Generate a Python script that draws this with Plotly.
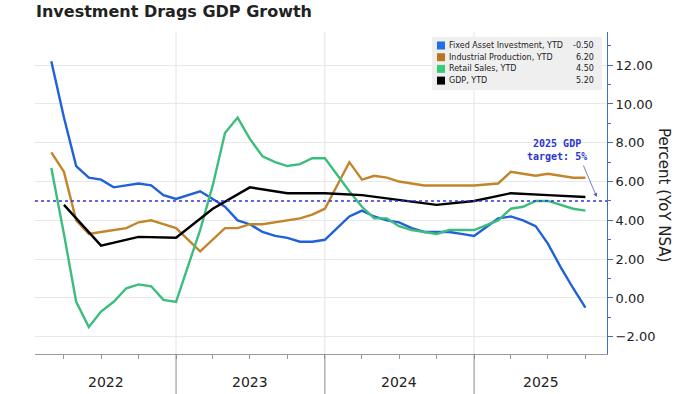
import plotly.graph_objects as go

# ---------------- data ----------------
months = [
    "2022-02-28", "2022-03-31", "2022-04-30", "2022-05-31", "2022-06-30", "2022-07-31",
    "2022-08-31", "2022-09-30", "2022-10-31", "2022-11-30", "2022-12-31",
    "2023-02-28", "2023-03-31", "2023-04-30", "2023-05-31", "2023-06-30", "2023-07-31",
    "2023-08-31", "2023-09-30", "2023-10-31", "2023-11-30", "2023-12-31",
    "2024-02-29", "2024-03-31", "2024-04-30", "2024-05-31", "2024-06-30", "2024-07-31",
    "2024-08-31", "2024-09-30", "2024-10-31", "2024-11-30", "2024-12-31",
    "2025-02-28", "2025-03-31", "2025-04-30", "2025-05-31", "2025-06-30", "2025-07-31",
    "2025-08-31", "2025-09-30",
]
fixed_asset_inv = [12.2, 9.3, 6.8, 6.2, 6.1, 5.7, 5.8, 5.9, 5.8, 5.3, 5.1,
                   5.5, 5.1, 4.7, 4.0, 3.8, 3.4, 3.2, 3.1, 2.9, 2.9, 3.0,
                   4.2, 4.5, 4.2, 4.0, 3.9, 3.6, 3.4, 3.4, 3.4, 3.3, 3.2,
                   4.1, 4.2, 4.0, 3.7, 2.8, 1.6, 0.5, -0.5]
industrial_prod = [7.5, 6.5, 4.0, 3.3, 3.4, 3.5, 3.6, 3.9, 4.0, 3.8, 3.6,
                   2.4, 3.0, 3.6, 3.6, 3.8, 3.8, 3.9, 4.0, 4.1, 4.3, 4.6,
                   7.0, 6.1, 6.3, 6.2, 6.0, 5.9, 5.8, 5.8, 5.8, 5.8, 5.8,
                   5.9, 6.5, 6.4, 6.3, 6.4, 6.3, 6.2, 6.2]
retail_sales = [6.7, 3.3, -0.2, -1.5, -0.7, -0.2, 0.5, 0.7, 0.6, -0.1, -0.2,
                3.5, 5.8, 8.5, 9.3, 8.2, 7.3, 7.0, 6.8, 6.9, 7.2, 7.2,
                5.5, 4.7, 4.1, 4.1, 3.7, 3.5, 3.4, 3.3, 3.5, 3.5, 3.5,
                4.0, 4.6, 4.7, 5.0, 5.0, 4.8, 4.6, 4.5]
quarters = ["2022-03-31", "2022-06-30", "2022-09-30", "2022-12-31",
            "2023-03-31", "2023-06-30", "2023-09-30", "2023-12-31",
            "2024-03-31", "2024-06-30", "2024-09-30", "2024-12-31",
            "2025-03-31", "2025-06-30", "2025-09-30"]
gdp = [4.8, 2.7, 3.15, 3.1, 4.6, 5.7, 5.4, 5.4, 5.3, 5.05, 4.8, 5.0, 5.4, 5.3, 5.2]
gdp_target = 5.0

series_names = ["Fixed Asset Investment, YTD", "Industrial Production, YTD",
                "Retail Sales, YTD", "GDP, YTD"]
year_labels = ["2022", "2023", "2024", "2025"]
year_bounds = ["2022-12-31", "2023-12-31", "2024-12-31"]
label_dates = ["2022-07-12", "2023-07-01", "2024-07-01", "2025-06-12"]
y_ticks = [-2, 0, 2, 4, 6, 8, 10, 12]
y_minor = [-1, 1, 3, 5, 7, 9, 11, 13]

# ---------------- styles ----------------
line_colors = ["#2061d9", "#c3852b", "#3dbd7d", "#000000"]
legend_colors = ["#1f6fe8", "#b8771f", "#38cc78", "#000000"]
FONT = "DejaVu Sans"

W, H = 700, 394
L, R, T, B = 35, 93, 32, 40
PW, PH = W - L - R, H - T - B


def px(x):
    return (x - L) / PW


def py(y):
    return (H - B - y) / PH


fig = go.Figure()
xs_list = [months, months, months, quarters]
ys_list = [fixed_asset_inv, industrial_prod, retail_sales, gdp]
for name, xs, ys, c in zip(series_names, xs_list, ys_list, line_colors):
    fig.add_trace(go.Scatter(x=xs, y=ys, mode="lines", name=name,
                             line=dict(color=c, width=2.4), showlegend=False))

shapes = []
# vertical gridlines / year separators
for d in year_bounds:
    shapes.append(dict(type="line", xref="x", yref="paper", x0=d, x1=d, y0=0, y1=1,
                       line=dict(color="#e3e3e3", width=1), layer="below"))
    shapes.append(dict(type="line", xref="x", yref="paper", x0=d, x1=d, y0=0, y1=py(H),
                       line=dict(color="#8a8a8a", width=1)))
# target line
shapes.append(dict(type="line", xref="paper", yref="y", x0=0, x1=1, y0=gdp_target, y1=gdp_target,
                   line=dict(color="#3333d6", width=1.6, dash="dot")))
# legend box
shapes.append(dict(type="rect", xref="paper", yref="paper", x0=px(432), x1=px(602),
                   y0=py(90), y1=py(37), fillcolor="#efefef", line=dict(width=0)))
row_y = [45.5, 57.2, 68.9, 80.6]
annotations = []
last_vals = [fixed_asset_inv[-1], industrial_prod[-1], retail_sales[-1], gdp[-1]]
for name, c, ry, v in zip(series_names, legend_colors, row_y, last_vals):
    shapes.append(dict(type="rect", xref="paper", yref="paper", x0=px(437), x1=px(445),
                       y0=py(ry + 4), y1=py(ry - 4), fillcolor=c, line=dict(width=0)))
    annotations.append(dict(xref="paper", yref="paper", x=px(447), y=py(ry), text=name,
                            xanchor="left", yanchor="middle", showarrow=False,
                            font=dict(family=FONT, size=8, color="#222")))
    annotations.append(dict(xref="paper", yref="paper", x=px(596), y=py(ry), text=f"{v:.2f}",
                            xanchor="right", yanchor="middle", showarrow=False,
                            font=dict(family=FONT, size=8, color="#222")))

# year labels
for lab, d in zip(year_labels, label_dates):
    annotations.append(dict(xref="x", yref="paper", x=d, y=py(381.5), text=lab, showarrow=False,
                            xanchor="center", yanchor="middle",
                            font=dict(family=FONT, size=14, color="#222")))

# title
annotations.append(dict(xref="paper", yref="paper", x=px(34), y=py(11.5),
                        text="<b>Investment Drags GDP Growth</b>", showarrow=False,
                        xanchor="left", yanchor="middle",
                        font=dict(family=FONT, size=16, color="#222")))

# target annotation
annotations.append(dict(xref="x", yref="y", x="2025-07-22", y=7.65,
                        text="<b>2025 GDP<br>target: 5%</b>", showarrow=False,
                        xanchor="center", yanchor="middle", align="center",
                        font=dict(family="DejaVu Sans Mono", size=10, color="#2a36d0")))
annotations.append(dict(xref="x", yref="y", x="2025-10-28", y=5.2, text="", showarrow=True,
                        ax=-14, ay=-33, arrowhead=2, arrowsize=1, arrowwidth=0.8,
                        arrowcolor="#5560b0"))
# axis title
annotations.append(dict(xref="paper", yref="paper", x=px(664), y=py(195),
                        text="Percent (YoY NSA)", textangle=90, showarrow=False,
                        xanchor="center", yanchor="middle",
                        font=dict(family=FONT, size=15, color="#222")))

fig.update_layout(
    width=W, height=H,
    margin=dict(l=L, r=R, t=T, b=B, autoexpand=False),
    paper_bgcolor="white", plot_bgcolor="white",
    shapes=shapes, annotations=annotations,
    xaxis=dict(type="date", range=["2022-01-19", "2025-11-22"], showgrid=False,
               showticklabels=False, ticks="", showline=True, linecolor="#999", linewidth=1,
               zeroline=False,
               minor=dict(tickmode="array", tickvals=quarters, ticks="outside",
                          ticklen=4, tickcolor="#999", showgrid=False)),
    yaxis=dict(side="right", range=[-2.89, 13.71], tickmode="array", tickvals=y_ticks,
               tickformat=".2f", showgrid=True, gridcolor="#e8e8e8", gridwidth=1,
               zeroline=False, showline=True, linecolor="#3f6fc8", linewidth=1,
               ticks="outside", ticklen=5, tickcolor="#3f6fc8",
               tickfont=dict(family=FONT, size=13, color="#222"),
               minor=dict(tickmode="array", tickvals=y_minor, ticks="outside", ticklen=3,
                          tickcolor="#3f6fc8", showgrid=False)),
)

fig.write_html("out.html", config={"displayModeBar": False},
               post_script="document.body.style.margin='0';document.body.style.overflow='hidden';")
